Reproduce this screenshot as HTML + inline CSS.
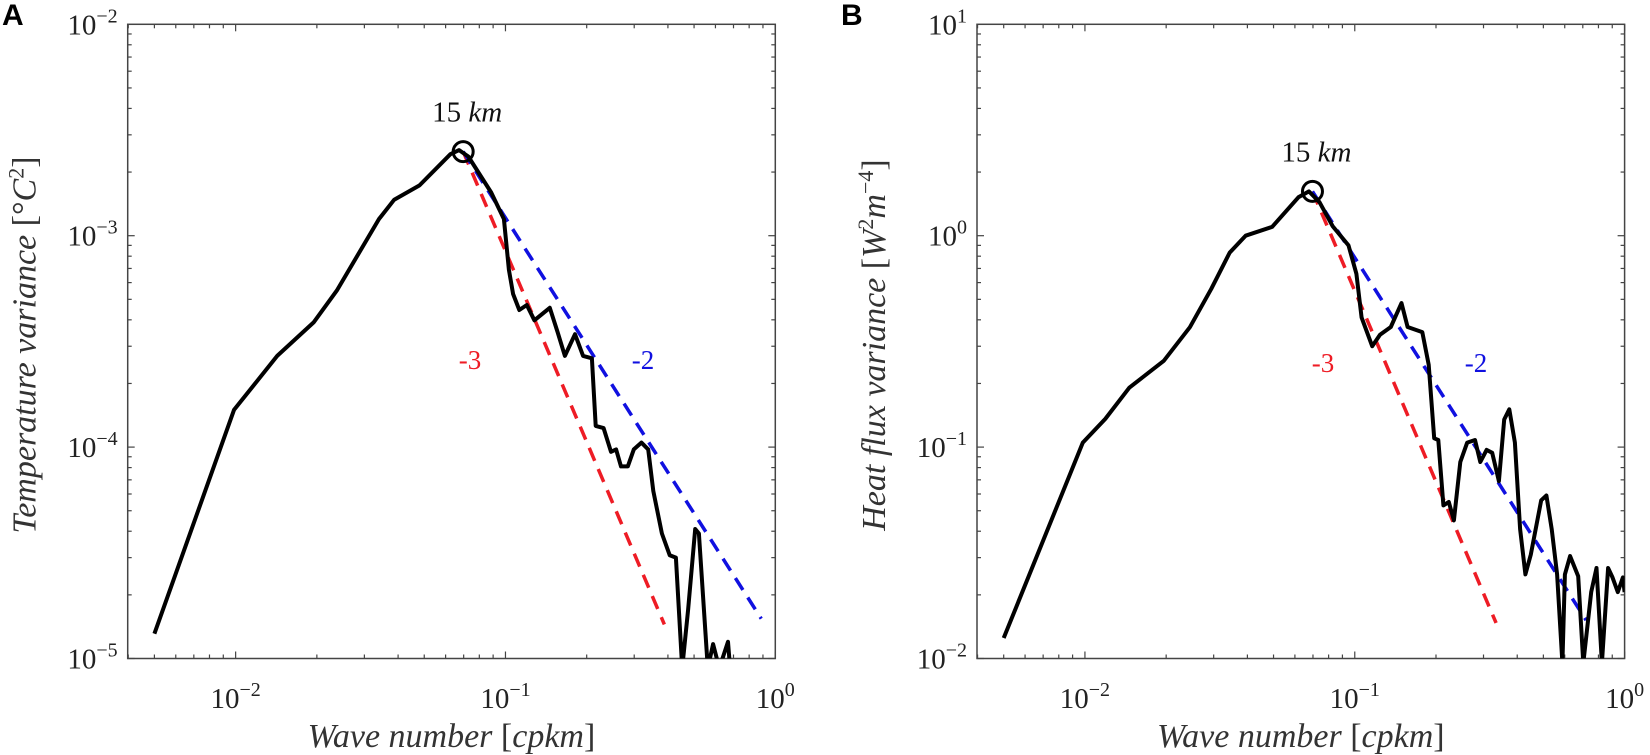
<!DOCTYPE html>
<html><head><meta charset="utf-8"><style>
html,body{margin:0;padding:0;background:#fff;}
svg{display:block;}
svg text{font-family:"Liberation Serif","DejaVu Serif","Times New Roman",serif;}
svg text.sans{font-family:"Liberation Sans","DejaVu Sans",sans-serif;}
</style></head><body>
<svg id="fig" width="1650" height="755" viewBox="0 0 1650 755" xmlns="http://www.w3.org/2000/svg" font-family="Liberation Serif, DejaVu Serif, serif"></svg>
<script>
// Panel A data: wave number (cpkm) vs temperature variance
const aK=[0.005,0.00986,0.01426,0.0195,0.0237,0.034,0.0387,0.048,0.0625,0.0673,0.0728,0.0885,0.0987,0.103,0.1067,0.1125,0.12,0.128,0.146,0.156,0.166,0.181,0.194,0.209,0.216,0.231,0.246,0.257,0.268,0.284,0.299,0.319,0.338,0.353,0.38,0.406,0.428,0.452,0.475,0.505,0.521,0.562,0.588,0.62,0.668,0.68,0.7];
const aV=[1.31e-5,1.5e-4,2.7e-4,3.9e-4,5.5e-4,1.2e-3,1.48e-3,1.73e-3,2.43e-3,2.54e-3,2.37e-3,1.6e-3,1.2e-3,6.9e-4,5.3e-4,4.45e-4,4.7e-4,3.98e-4,4.56e-4,3.5e-4,2.7e-4,3.42e-4,2.7e-4,2.63e-4,1.26e-4,1.23e-4,9.5e-5,9.75e-5,8.1e-5,8.1e-5,9.75e-5,1.05e-4,9.75e-5,6.2e-5,3.9e-5,3.08e-5,3.0e-5,0.9e-5,1.7e-5,4.1e-5,3.9e-5,0.9e-5,1.17e-5,0.9e-5,1.2e-5,0.9e-5,0.9e-5];
// Panel B data: wave number vs heat flux variance
const bK=[0.005,0.00982,0.0119,0.0146,0.0196,0.0245,0.0294,0.0344,0.0394,0.0494,0.0618,0.0676,0.074,0.0828,0.0948,0.1014,0.106,0.116,0.124,0.136,0.149,0.157,0.178,0.188,0.197,0.204,0.213,0.223,0.233,0.246,0.261,0.279,0.292,0.308,0.323,0.342,0.358,0.374,0.392,0.41,0.429,0.449,0.491,0.513,0.537,0.562,0.588,0.601,0.628,0.673,0.703,0.752,0.787,0.824,0.869,0.902,0.944,0.986,1.0];
const bV=[0.0125,0.105,0.136,0.191,0.256,0.369,0.561,0.832,1.0,1.1,1.52,1.62,1.44,1.11,0.9,0.66,0.41,0.30,0.34,0.37,0.48,0.37,0.35,0.245,0.11,0.108,0.053,0.055,0.045,0.085,0.105,0.108,0.085,0.097,0.094,0.069,0.135,0.151,0.105,0.041,0.025,0.031,0.056,0.059,0.041,0.025,0.0095,0.025,0.0305,0.0245,0.0095,0.0206,0.0268,0.0095,0.0268,0.0242,0.0206,0.0242,0.0206];
// Reference slopes
const slopes=[-3,-2];
const aPeak=[0.0697,2.5e-3], bPeak=[0.0697,1.62];
const aEnds=[0.388,0.887], bEnds=[0.334,0.72];

const NS="http://www.w3.org/2000/svg";
const svg=document.getElementById('fig');
function el(tag,attrs,parent){const e=document.createElementNS(NS,tag);for(const k in attrs)e.setAttribute(k,attrs[k]);(parent||svg).appendChild(e);return e;}
const SERIF='Liberation Serif, DejaVu Serif, serif';

function panel(opt){
  const g=el('g',{});
  
  
  const L=opt.left,R=opt.left+647.6,T=24.3,B=658.5;
  const xmin=-2.4,xmax=0,ymax=opt.ytop,ymin=opt.ytop-3;
  const X=k=>L+(Math.log10(k)-xmin)/(xmax-xmin)*(R-L);
  const Y=v=>T+(ymax-Math.log10(v))/(ymax-ymin)*(B-T);
  const clip=el('clipPath',{id:'c'+opt.id},g);
  el('rect',{x:L,y:T,width:R-L,height:B-T},clip);
  const tg=el('g',{stroke:'#444','stroke-width':1.2},g);
  
  
  for(let d=-3;d<=0;d++){for(let m=1;m<10;m++){const lv=d+Math.log10(m);if(lv<xmin-1e-9||lv>xmax+1e-9)continue;const x=L+(lv-xmin)/(xmax-xmin)*(R-L);const len=m==1?7:4;
    el('line',{x1:x,y1:B,x2:x,y2:B-len},tg);el('line',{x1:x,y1:T,x2:x,y2:T+len},tg);}}
  for(let d=ymin;d<ymax;d++){for(let m=1;m<10;m++){const lv=d+Math.log10(m);const y=T+(ymax-lv)/(ymax-ymin)*(B-T);const len=m==1?7:4;
    el('line',{x1:L,y1:y,x2:L+len,y2:y},tg);el('line',{x1:R,y1:y,x2:R-len,y2:y},tg);}}
  const xt=[-2,-1,0];
  xt.forEach(e=>{const x=L+(e-xmin)/(xmax-xmin)*(R-L);const t=el('text',{x:x,y:708,'font-size':29,'text-anchor':'middle',fill:'#222','font-family':SERIF},g);
    
    t.innerHTML='10<tspan dy="-12" font-size="20">'+(e<0?'\u2212'+(-e):e)+'</tspan>';});
  for(let e=ymin;e<=ymax;e++){const y=T+(ymax-e)/(ymax-ymin)*(B-T);const t=el('text',{x:L-10,y:y+10,'font-size':29,'text-anchor':'end',fill:'#222','font-family':SERIF},g);
    
    t.innerHTML='10<tspan dy="-12" font-size="20">'+(e<0?'\u2212'+(-e):e)+'</tspan>';}
  const fr=el('rect',{x:L,y:T,width:R-L,height:B-T,fill:'none',stroke:'#444','stroke-width':1.5},g);
  
  const pg=el('g',{'clip-path':'url(#c'+opt.id+')'},g);
  const cols=['#ee1c25','#1010e0'];
  slopes.forEach((s,i)=>{const k0=opt.peak[0],v0=opt.peak[1],k1=opt.ends[i];const v1=v0*Math.pow(k1/k0,s);
    const ln=el('line',{x1:X(k0),y1:Y(v0),x2:X(k1),y2:Y(v1),stroke:cols[i],'stroke-width':3.5,'stroke-dasharray':'14 9'},pg);
    });
  const d=opt.k.map((k,i)=>(i?'L':'M')+X(k).toFixed(1)+','+Y(opt.v[i]).toFixed(1)).join(' ');
  const p=el('path',{d:d,fill:'none',stroke:'#000','stroke-width':4,'stroke-linejoin':'round'},pg);
  
  const c=el('circle',{cx:X(opt.peak[0]),cy:Y(opt.peak[1]),r:10,fill:'none',stroke:'#000','stroke-width':3},g);
  
  const t1=el('text',{x:X(opt.peak[0])+4,y:Y(opt.peak[1])-30,'font-size':29,'text-anchor':'middle',fill:'#111','font-family':SERIF},g);
  
  t1.innerHTML='15 <tspan font-style="italic">km</tspan>';
  const t2=el('text',{x:opt.m3[0],y:opt.m3[1],'font-size':27,'text-anchor':'middle',fill:'#ee1c25','font-family':SERIF},g);
  t2.textContent='-3';
  const t3=el('text',{x:opt.m2[0],y:opt.m2[1],'font-size':27,'text-anchor':'middle',fill:'#1010e0','font-family':SERIF},g);
  t3.textContent='-2';
  const xtl=el('text',{x:(L+R)/2,y:747,'font-size':34,'text-anchor':'middle','font-style':'italic',fill:'#333','font-family':SERIF},g);
  
  xtl.innerHTML='Wave number <tspan font-style="normal">[</tspan>cpkm<tspan font-style="normal">]</tspan>';
  const ytl=el('text',{x:0,y:0,'font-size':34,'text-anchor':'middle','font-style':'italic',fill:'#333','font-family':SERIF,transform:'translate('+(L-92)+',345) rotate(-90)'},g);
  
  ytl.innerHTML=opt.ytitle;
  const pl=el('text',{x:opt.plx,y:25,'font-size':30,'font-weight':'bold','font-family':'Liberation Sans, DejaVu Sans, sans-serif',fill:'#000','class':'sans'},g);
  pl.textContent=opt.label;
}
panel({id:'A',name:'panel-a',label:'A',plx:2,left:127.7,ytop:-2,k:aK,v:aV,peak:aPeak,ends:aEnds,m3:[470,369],m2:[643,369],
  ytitle:'Temperature variance <tspan font-style="normal">[°</tspan>C<tspan dy="-12" font-size="22" font-style="normal">2</tspan><tspan dy="12" font-style="normal">]</tspan>'});
panel({id:'B',name:'panel-b',label:'B',plx:841,left:977,ytop:1,k:bK,v:bV,peak:bPeak,ends:bEnds,m3:[1323,372],m2:[1476,372],
  ytitle:'Heat flux variance <tspan font-style="normal">[</tspan>W<tspan dy="-12" font-size="22" font-style="normal">2</tspan><tspan dy="12">m</tspan><tspan dy="-12" font-size="22" font-style="normal">\u22124</tspan><tspan dy="12" font-style="normal">]</tspan>'});
</script>
</body></html>
